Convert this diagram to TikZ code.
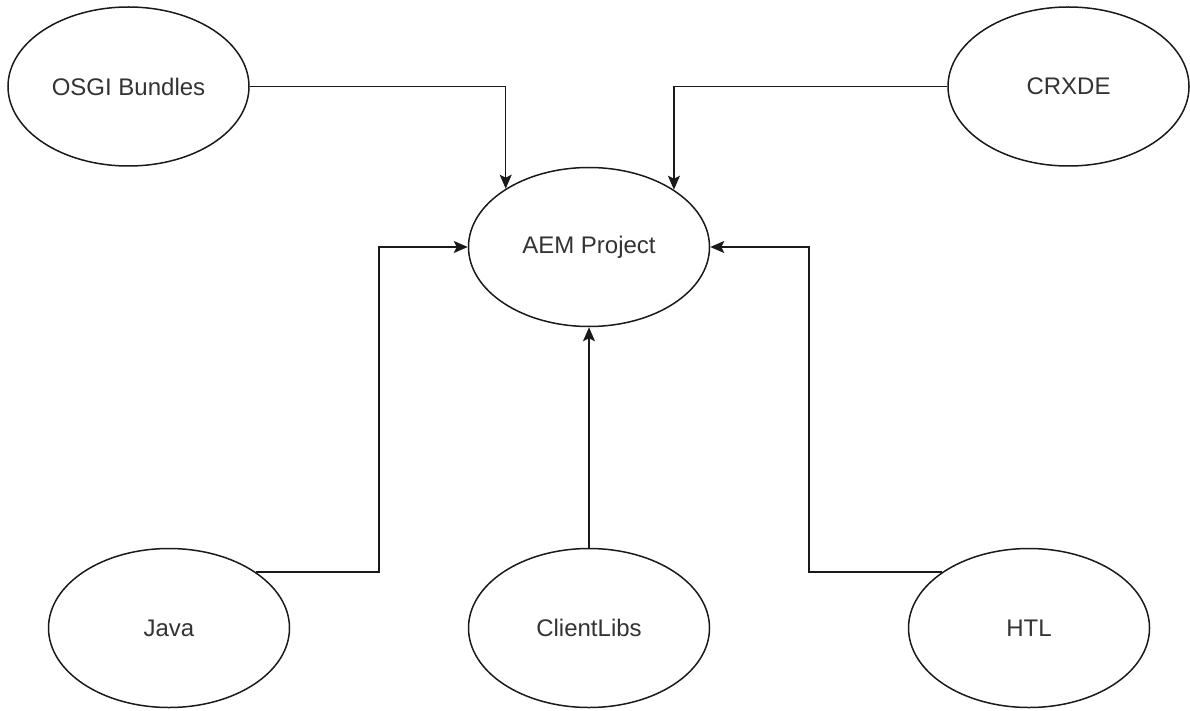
\documentclass[tikz,border=0pt]{standalone}
\usepackage{fontspec}
\setmainfont{Liberation Sans}
\usetikzlibrary{shapes.geometric,arrows.meta}
\definecolor{txtgray}{HTML}{333333}
\definecolor{linegray}{HTML}{1A1A1A}
\begin{document}
\begin{tikzpicture}[x=1pt,y=-1pt,
  oval/.style={ellipse,draw=linegray,line width=1.5pt,fill=white,
    minimum width=241pt,minimum height=159pt,inner sep=0pt,
    font=\fontsize{24}{28}\selectfont,text=txtgray},
  arr/.style={draw=linegray,line width=1.5pt,-{Stealth[length=14pt,width=12pt,inset=3pt]}}]
\useasboundingbox[fill=white] (0,0) rectangle (1190,711);
\node[oval] (osgi) at (128.5,86.5) {OSGI Bundles};
\node[oval] (crx) at (1068.5,86.5) {CRXDE};
\node[oval] (aem) at (589,247) {AEM Project};
\node[oval] (java) at (169,628) {Java};
\node[oval] (cl) at (589,628) {ClientLibs};
\node[oval] (htl) at (1029,628) {HTL};
\coordinate (jv) at (379,400);
\coordinate (hv) at (809,400);
\draw[arr] (osgi.east) -| (aem.145.8);
\draw[arr] (crx.west) -| (aem.34.2);
\draw[arr] (java.33) -| (jv) |- (aem.west);
\draw[arr] (htl.147) -| (hv) |- (aem.east);
\draw[arr] (cl.north) -- (aem.south);
\end{tikzpicture}
\end{document}
